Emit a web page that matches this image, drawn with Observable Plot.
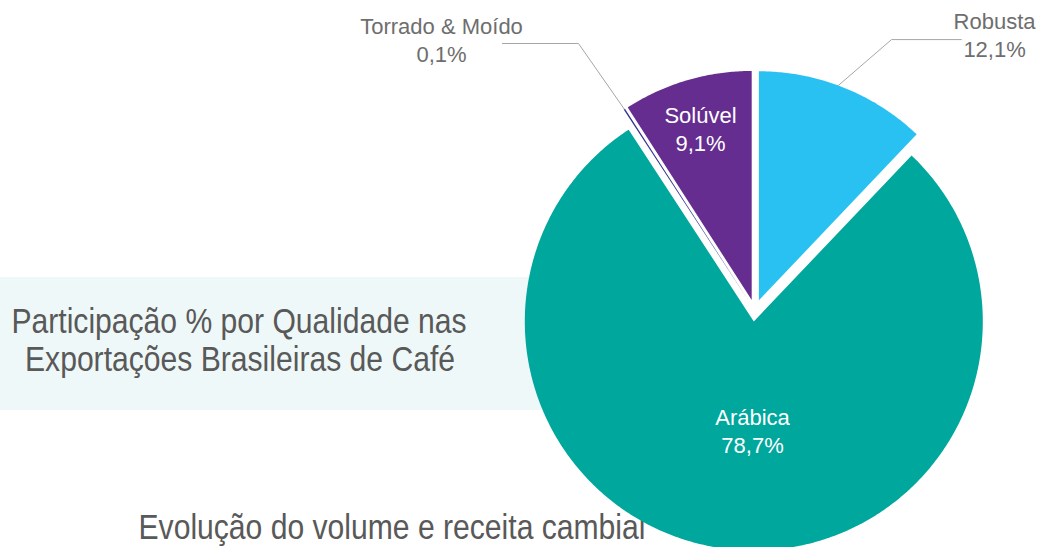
<!DOCTYPE html>
<html>
<head>
<meta charset="utf-8">
<script src="https://cdn.jsdelivr.net/npm/d3@7"></script>
<script src="https://cdn.jsdelivr.net/npm/@observablehq/plot@0.6"></script>
<style>
  html, body { margin: 0; padding: 0; background: #ffffff; }
  #wrap { position: relative; width: 1039px; height: 547px; overflow: hidden; font-family: "Liberation Sans", Arial, sans-serif; }
  #box { position: absolute; left: 0; top: 277px; width: 700px; height: 133px; background: #eff8f8; }
  .heading { position: absolute; white-space: nowrap; font-size: 35px; line-height: 35px; color: #595959;
             transform: translateX(-50%) scaleX(0.86); transform-origin: center; }
  #chart { position: absolute; left: 0; top: 0; }
  #chart svg { background: transparent; }
</style>
</head>
<body>
<div id="wrap">
  <div id="box"></div>
  <div class="heading" style="left:239px; top:303px;">Participação % por Qualidade nas</div>
  <div class="heading" style="left:240px; top:341px;">Exportações Brasileiras de Café</div>
  <div class="heading" style="left:392px; top:509px;">Evolução do volume e receita cambial</div>
  <div id="chart"></div>
</div>
<script>
// ---- data (clockwise from 12 o'clock) ----
const categories = ["Robusta", "Arábica", "Torrado & Moído", "Solúvel"];
const shares = [12.1, 78.7, 0.1, 9.1];
const shareLabels = ["12,1%", "78,7%", "0,1%", "9,1%"];
const colors = ["#29c1f1", "#00a79d", "#2e3192", "#652d8f"];

// ---- layout (in pie-radius units, pie centre at 0,0) ----
const explode = 0.048;
const insideLabels = {"Arábica": [-0.010, -0.531], "Solúvel": [-0.237, 0.790]};
const outsideLabels = {
  "Robusta": {at: [1.047, 1.197], leaderAngle: 20.3, elbow: [0.597, 1.183], end: [0.902, 1.183]},
  "Torrado & Moído": {at: [-1.368, 1.179], leaderAngle: null, elbow: [-0.770, 1.166], end: [-1.102, 1.166]}
};

const rad = (deg) => deg * Math.PI / 180;
const total = d3.sum(shares);
let acc = 0;
const slices = categories.map((c, i) => {
  const a0 = acc / total * 360;
  acc += shares[i];
  const a1 = acc / total * 360;
  const mid = (a0 + a1) / 2;
  const cx = explode * Math.sin(rad(mid)), cy = explode * Math.cos(rad(mid));
  return {cat: c, a0, a1, mid, cx, cy};
});

const pts = [];
for (const s of slices) {
  pts.push({cat: s.cat, x: s.cx, y: s.cy});
  const n = Math.max(2, Math.ceil((s.a1 - s.a0) / 0.5));
  for (let k = 0; k <= n; k++) {
    const a = rad(s.a0 + (s.a1 - s.a0) * k / n);
    pts.push({cat: s.cat, x: s.cx + Math.sin(a), y: s.cy + Math.cos(a)});
  }
  pts.push({cat: s.cat, x: s.cx, y: s.cy});
}

const leaders = [];
const outText = [];
const inText = [];
slices.forEach((s, i) => {
  if (outsideLabels[s.cat]) {
    const o = outsideLabels[s.cat];
    const a = rad(o.leaderAngle == null ? s.mid : o.leaderAngle);
    leaders.push({cat: s.cat, x: s.cx + Math.sin(a), y: s.cy + Math.cos(a)});
    leaders.push({cat: s.cat, x: o.elbow[0], y: o.elbow[1]});
    leaders.push({cat: s.cat, x: o.end[0], y: o.end[1]});
    outText.push({name: s.cat, value: shareLabels[i], x: o.at[0], y: o.at[1]});
  }
  if (insideLabels[s.cat]) {
    const p = insideLabels[s.cat];
    inText.push({name: s.cat, value: shareLabels[i], x: p[0], y: p[1]});
  }
});

// pixel mapping: centre at (754.3, 310), radius 229 px
const W = 1039, H = 547, R = 229, CX = 754.3, CY = 310;
const font = "Liberation Sans, Arial, sans-serif";

const chart = Plot.plot({
  width: W, height: H, margin: 0,
  style: {background: "transparent", fontFamily: font},
  x: {domain: [-CX / R, (W - CX) / R], axis: null},
  y: {domain: [(CY - H) / R, CY / R], axis: null},
  color: {domain: categories, range: colors},
  marks: [
    Plot.line(pts, {x: "x", y: "y", z: "cat", fill: "cat", stroke: "none", curve: "linear-closed"}),
    Plot.line(leaders, {x: "x", y: "y", z: "cat", stroke: "#a6a6a6", strokeWidth: 1}),
    Plot.text(outText, {x: "x", y: "y", text: "name", dy: -14, fill: "#6e6e6e", fontSize: 22, fontFamily: font}),
    Plot.text(outText, {x: "x", y: "y", text: "value", dy: 14, fill: "#6e6e6e", fontSize: 22, fontFamily: font}),
    Plot.text(inText, {x: "x", y: "y", text: "name", dy: -14, fill: "#ffffff", fontSize: 22, fontFamily: font}),
    Plot.text(inText, {x: "x", y: "y", text: "value", dy: 14, fill: "#ffffff", fontSize: 22, fontFamily: font})
  ]
});
document.getElementById("chart").appendChild(chart);
</script>
</body>
</html>
